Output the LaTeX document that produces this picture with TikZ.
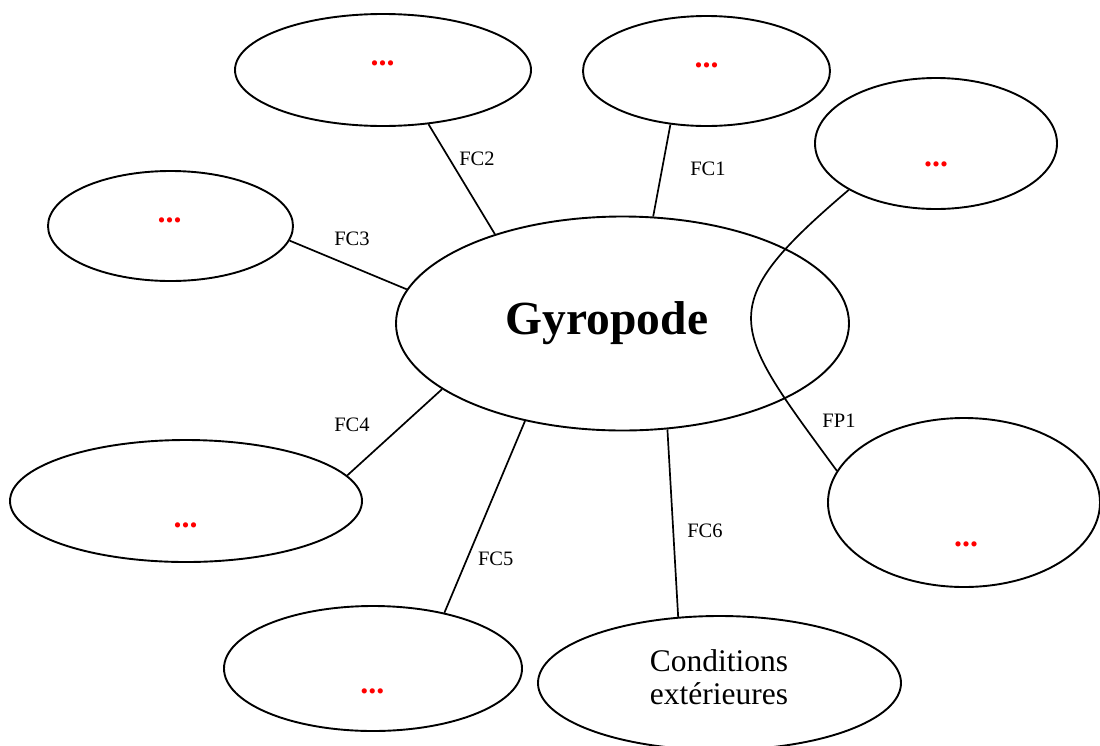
\documentclass[tikz,border=0pt]{standalone}
\usepackage{fontspec}
\setmainfont{Liberation Serif}
\usetikzlibrary{shapes.geometric}
\begin{document}
\begin{tikzpicture}[x=1pt,y=-1pt,
  bubble/.style={ellipse,draw,line width=1.9pt,inner sep=0pt},
  conn/.style={line width=1.7pt},
  lbl/.style={anchor=base,inner sep=0pt,font=\fontsize{20.5}{24}\selectfont},
  dots/.style={anchor=base,inner sep=0pt,text=red,font=\fontsize{32}{36}\selectfont\bfseries}]
\useasboundingbox (0,0) rectangle (1100,745);
% bubbles
\node[bubble,minimum width=453pt,minimum height=214pt] (C) at (622.5,323.5) {};
\node[bubble,minimum width=247pt,minimum height=110pt] (e1) at (706.5,71) {};
\node[bubble,minimum width=296pt,minimum height=112pt] (e2) at (383,70) {};
\node[bubble,minimum width=242pt,minimum height=131pt] (e3) at (936,143.5) {};
\node[bubble,minimum width=245pt,minimum height=110pt] (e4) at (170.5,226) {};
\node[bubble,minimum width=352pt,minimum height=122pt] (e5) at (186,501) {};
\node[bubble,minimum width=298pt,minimum height=125pt] (e6) at (373,668.5) {};
\node[bubble,minimum width=363pt,minimum height=134pt] (e7) at (719.5,683) {};
\node[bubble,minimum width=272pt,minimum height=169pt] (e8) at (964,502.5) {};
% texts
\node[anchor=base,inner sep=0pt,font=\fontsize{47.5}{52}\selectfont\bfseries] (tC) at (607,334) {Gyropode};
\node[inner sep=0pt,align=center,font=\fontsize{31.5}{33.3}\selectfont] (t7) at (719,677.5) {Conditions\\extérieures};
\node[dots] (d1) at (706.7,67.5) {...};
\node[dots] (d2) at (382.7,65.2) {...};
\node[dots] (d3) at (936,166.5) {...};
\node[dots] (d4) at (169.5,222.5) {...};
\node[dots] (d5) at (185.7,527.5) {...};
\node[dots] (d6) at (372.3,693.5) {...};
\node[dots] (d8) at (966,546.5) {...};
% connectors
\draw[conn] (e1.236.9) -- (C.74.5);
\draw[conn] (e2.-50.3) -- (C.145.1);
\draw[conn] (e4.-7) -- (C.171.8);
\draw[conn] (C.200.5) -- (e5.9.4);
\draw[conn] (C.225.9) -- (e6.38.2);
\draw[conn] (C.-67.6) -- (e7.122.2);
\draw[conn] (e3.208.1) .. controls (710,308) and (731,326) .. (e8.166.1);
% connector labels
\node[lbl] (l1) at (708,175.7) {FC1};
\node[lbl] (l2) at (477,165.7) {FC2};
\node[lbl] (l3) at (352,245) {FC3};
\node[lbl] (l4) at (352,431.7) {FC4};
\node[lbl] (l5) at (495.7,565) {FC5};
\node[lbl] (l6) at (705,537.3) {FC6};
\node[lbl] (l7) at (839,427.3) {FP1};
\end{tikzpicture}
\end{document}
